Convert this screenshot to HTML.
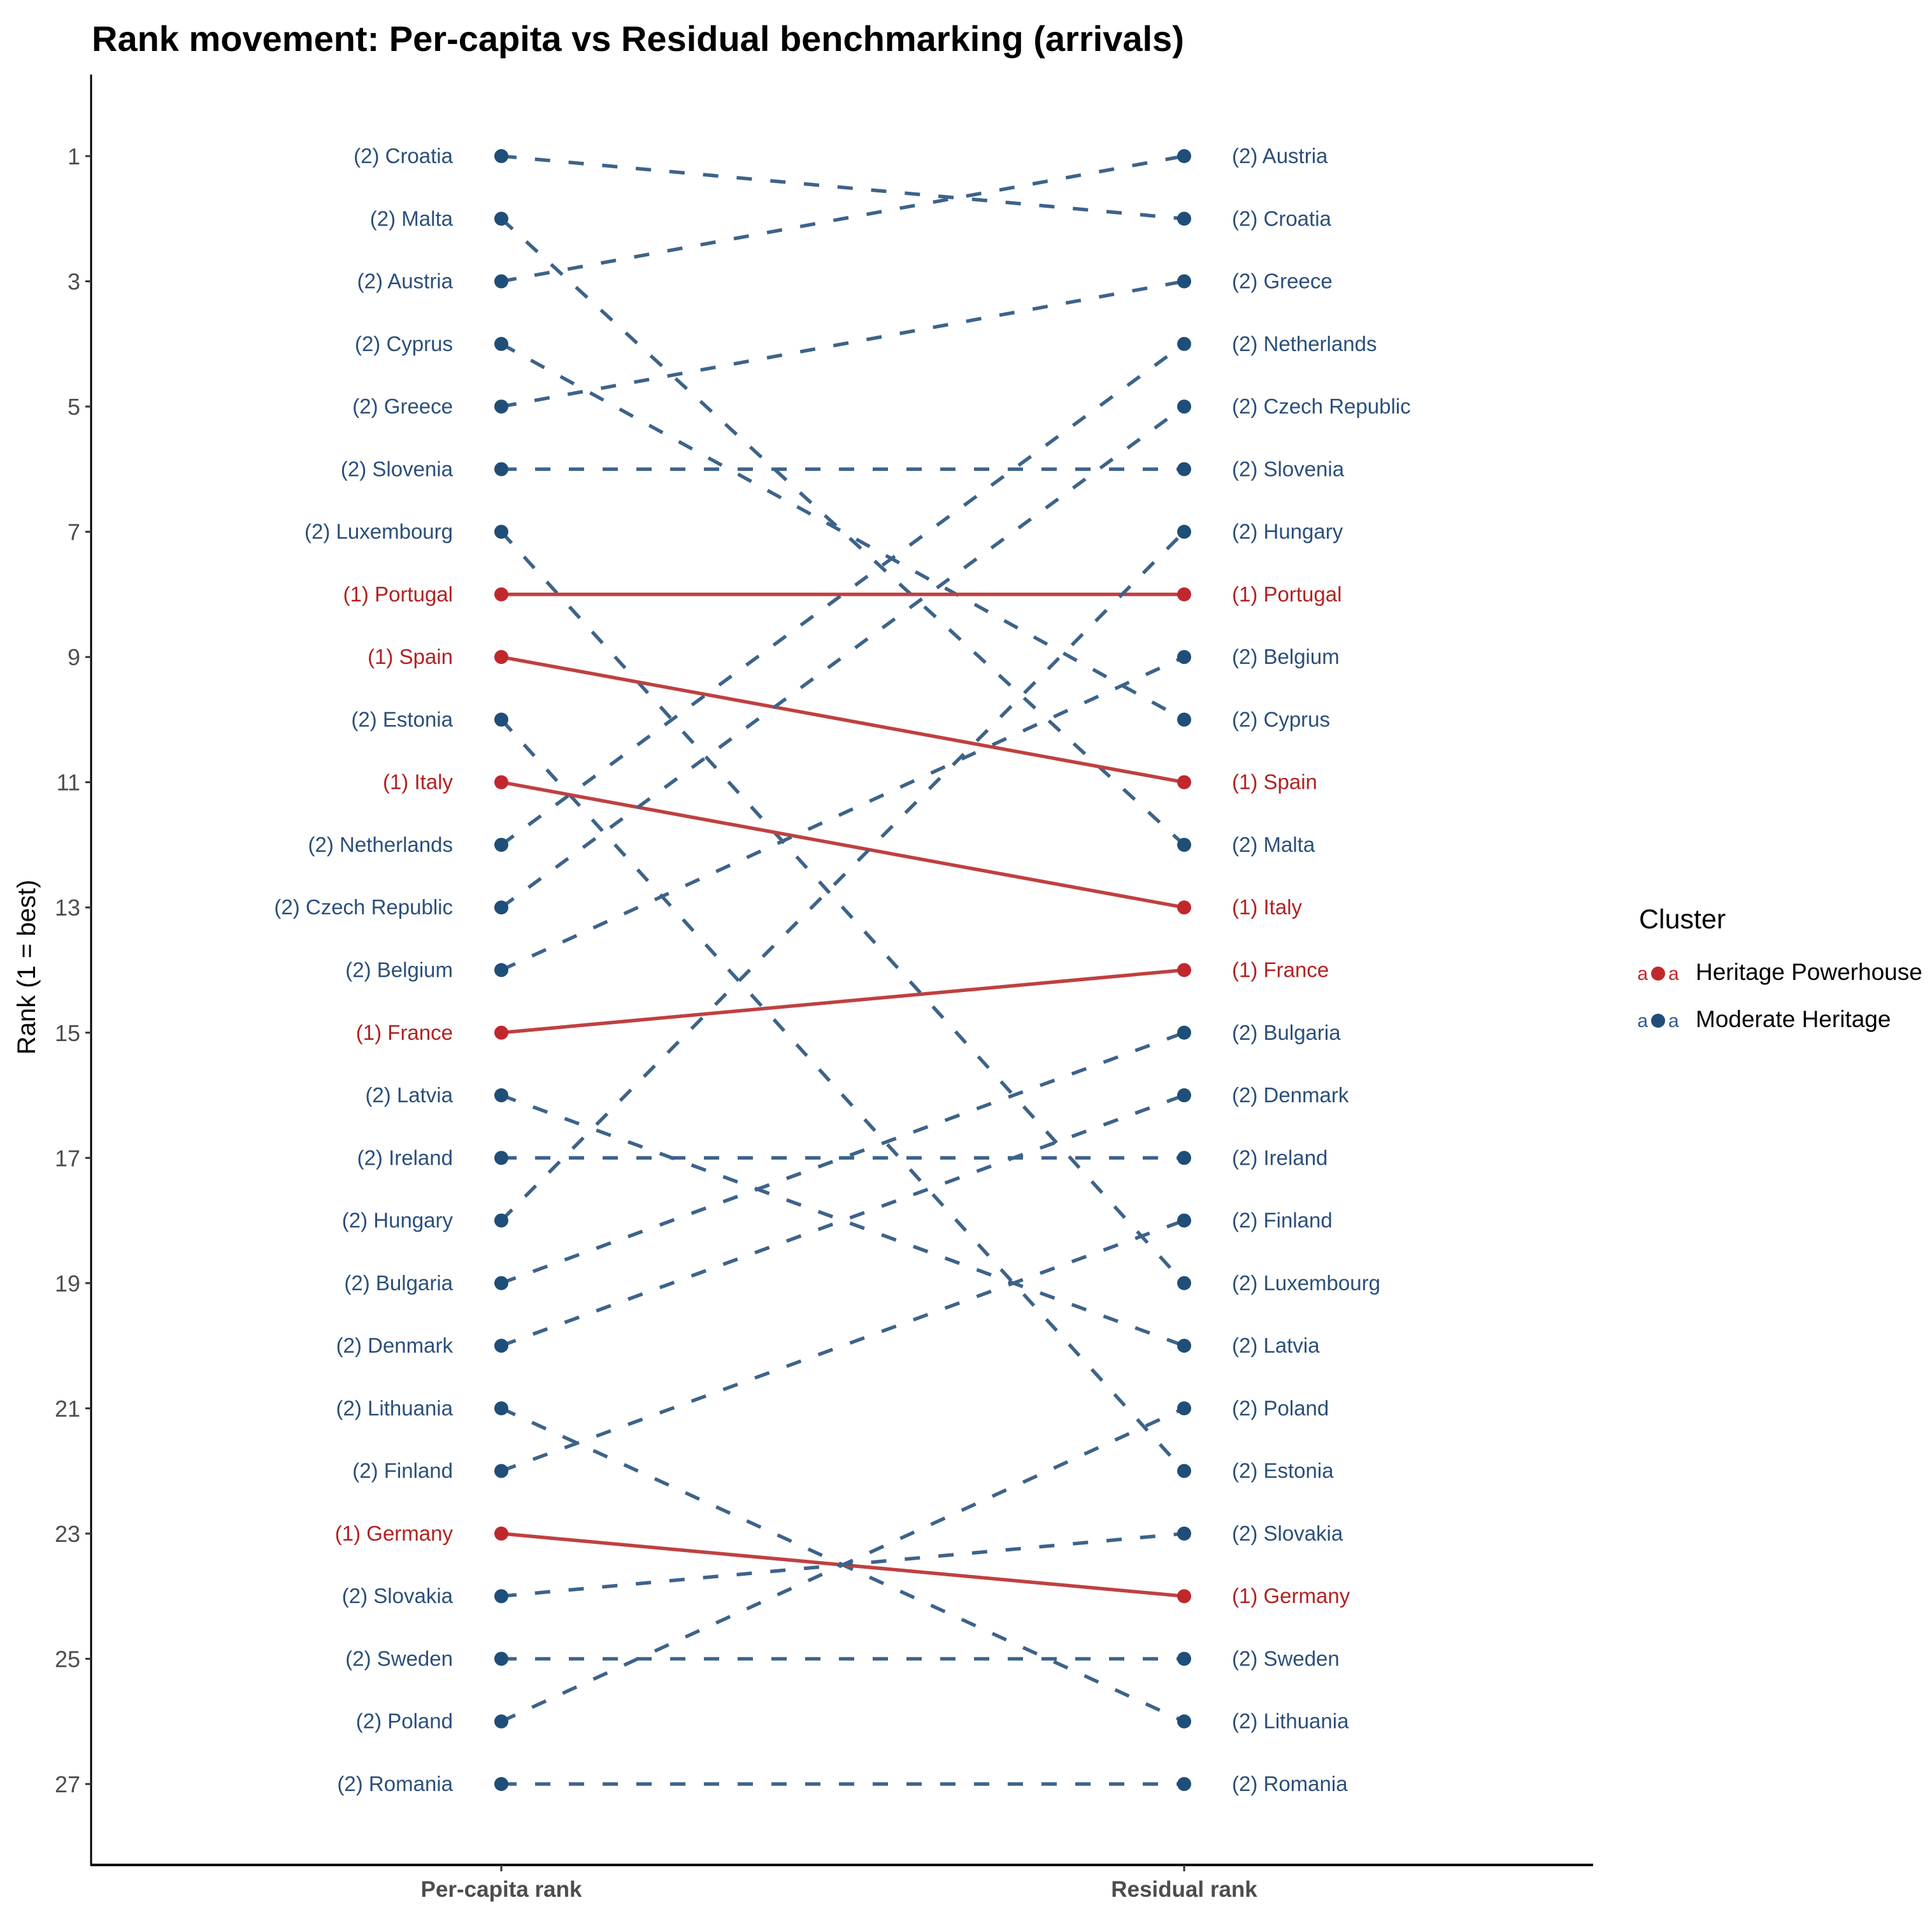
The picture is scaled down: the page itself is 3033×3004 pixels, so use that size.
<!DOCTYPE html>
<html><head><meta charset="utf-8"><style>
html,body{margin:0;padding:0;background:#fff}
svg{display:block;font-family:"Liberation Sans",Arial,sans-serif}
</style></head><body>
<svg id="chart" width="3033" height="3004" viewBox="0 0 3033 3004">
<text x="144" y="80" font-size="56" font-weight="bold" fill="#000">Rank movement: Per-capita vs Residual benchmarking (arrivals)</text>
<g id="plot"></g>
<line x1="143" y1="117" x2="143" y2="2928" stroke="#000" stroke-width="3"/>
<line x1="142" y1="2927" x2="2501" y2="2927" stroke="#000" stroke-width="4"/>
<g id="yaxis"></g>
<g id="xaxis"></g>
<text transform="translate(55,1518) rotate(-90)" text-anchor="middle" font-size="40" fill="#000">Rank (1 = best)</text>
<g>
<text x="2573" y="1457" font-size="43" fill="#000">Cluster</text>
<g>
<text x="2587" y="1538" text-anchor="end" font-size="30" fill="#C0282D">a</text>
<text x="2619" y="1538" text-anchor="start" font-size="30" fill="#C0282D">a</text>
<circle cx="2603" cy="1528" r="11" fill="#C0282D"/>
<text x="2662" y="1538" font-size="37" fill="#000">Heritage Powerhouse</text>
</g>
<g>
<text x="2587" y="1612" text-anchor="end" font-size="30" fill="#2B5D8E">a</text>
<text x="2619" y="1612" text-anchor="start" font-size="30" fill="#2B5D8E">a</text>
<circle cx="2603" cy="1602" r="11" fill="#1F4E79"/>
<text x="2662" y="1612" font-size="37" fill="#000">Moderate Heritage</text>
</g>
</g>
</svg>
<script>
const countries = ["Croatia","Malta","Austria","Cyprus","Greece","Slovenia","Luxembourg","Portugal","Spain","Estonia","Italy","Netherlands","Czech Republic","Belgium","France","Latvia","Ireland","Hungary","Bulgaria","Denmark","Lithuania","Finland","Germany","Slovakia","Sweden","Poland","Romania"];
const clusters = [2,2,2,2,2,2,2,1,1,2,1,2,2,2,1,2,2,2,2,2,2,2,1,2,2,2,2];
const perCapitaRank = [1,2,3,4,5,6,7,8,9,10,11,12,13,14,15,16,17,18,19,20,21,22,23,24,25,26,27];
const residualRank = [2,12,1,10,3,6,19,8,11,22,13,4,5,9,14,20,17,7,15,16,26,18,24,23,25,21,27];
const yTicks = [1,3,5,7,9,11,13,15,17,19,21,23,25,27];
const xCategories = ["Per-capita rank","Residual rank"];

const NS = "http://www.w3.org/2000/svg";
const yScale = r => 245 + (r - 1) * (2800 - 245) / 26;
const xScale = i => 787 + i * (1859 - 787);
const lineCol = c => c === 1 ? "#C04040" : "#3D6389";
const ptCol = c => c === 1 ? "#C0282D" : "#1F4E79";
const lblCol = c => c === 1 ? "#B22222" : "#2B4F7A";
function mk(tag, attrs, parent) {
  const e = document.createElementNS(NS, tag);
  for (const k in attrs) e.setAttribute(k, attrs[k]);
  parent.appendChild(e);
  return e;
}
const plot = document.getElementById("plot");
const yaxis = document.getElementById("yaxis");
const xaxis = document.getElementById("xaxis");

yTicks.forEach(t => {
  const y = yScale(t);
  const tk = mk("line", {x1: 134, y1: y, x2: 143, y2: y, stroke: "#333", "stroke-width": 3}, yaxis);
  
  
  const tl = mk("text", {x: 126, y: y + 13, "text-anchor": "end", "font-size": 36, fill: "#4d4d4d"}, yaxis);
  tl.textContent = t;
  
  
});
xCategories.forEach((c, i) => {
  const x = xScale(i);
  const tk = mk("line", {x1: x, y1: 2927, x2: x, y2: 2937, stroke: "#333", "stroke-width": 3}, xaxis);
  
  
  const tl = mk("text", {x: x, y: 2977, "text-anchor": "middle", "font-size": 35, "font-weight": "bold", fill: "#4d4d4d"}, xaxis);
  tl.textContent = c;
  
  
});

countries.forEach((name, i) => {
  const c = clusters[i];
  const y1 = yScale(perCapitaRank[i]), y2 = yScale(residualRank[i]);
  const x1 = xScale(0), x2 = xScale(1);
  const attrs = {x1: x1, y1: y1, x2: x2, y2: y2, stroke: lineCol(c), "stroke-width": 5.5};
  if (c !== 1) attrs["stroke-dasharray"] = "24 29";
  const ln = mk("line", attrs, plot);
  
  
  const p1 = mk("circle", {cx: x1, cy: y1, r: 11, fill: ptCol(c)}, plot);
  
  
  const p2 = mk("circle", {cx: x2, cy: y2, r: 11, fill: ptCol(c)}, plot);
  
  
  const l1 = mk("text", {x: 711, y: y1 + 11, "text-anchor": "end", "font-size": 33, fill: lblCol(c)}, plot);
  l1.textContent = "(" + c + ") " + name;
  
  
  const l2 = mk("text", {x: 1934, y: y2 + 11, "text-anchor": "start", "font-size": 33, fill: lblCol(c)}, plot);
  l2.textContent = "(" + c + ") " + name;
  
  
});
</script>
</body></html>
